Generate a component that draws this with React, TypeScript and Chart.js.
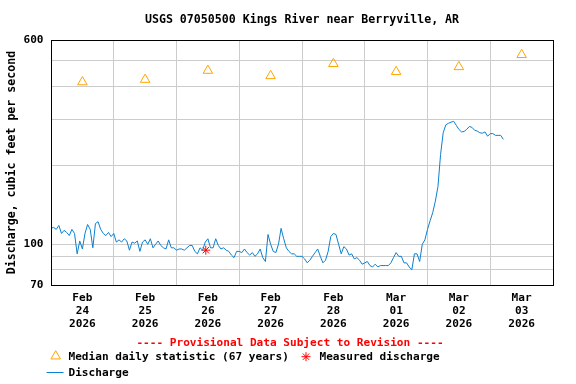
import React, { useEffect, useRef } from 'react';
import { Chart, registerables } from 'chart.js';
import { drawPoint } from 'chart.js/helpers';

Chart.register(...registerables);

// ---------- data ----------
const titleText = 'USGS 07050500 Kings River near Berryville, AR';
const yAxisTitle = 'Discharge, cubic feet per second';
const provisionalText = '---- Provisional Data Subject to Revision ----';

const dayMonths = ['Feb', 'Feb', 'Feb', 'Feb', 'Feb', 'Mar', 'Mar', 'Mar'];
const dayNumbers = ['24', '25', '26', '27', '28', '01', '02', '03'];
const dayYears = ['2026', '2026', '2026', '2026', '2026', '2026', '2026', '2026'];

const yTickValues = [70, 80, 90, 100, 200, 300, 400, 500, 600];
const yLabeledTicks = [70, 100, 600];

// hours since Feb 24 00:00, one reading per hour
const dischargeStartHour = 0;
const dischargeStepHours = 1;
const dischargeValues = [
  115, 116, 114, 118, 110, 113, 111, 108, 114, 110, 92, 103,
  96, 110, 119, 114, 97, 120, 122, 114, 110, 108, 111, 107,
  110, 102, 104, 102, 105, 103, 95, 102, 101, 103, 94, 102,
  104, 100, 105, 97, 100, 103, 99, 97, 96, 104, 97, 97,
  95, 96, 96, 95, 97, 99, 99, 94, 92, 97, 95, 102,
  105, 97, 97, 105, 99, 96, 97, 95, 94, 91, 89, 94,
  94, 93, 96, 93, 91, 93, 90, 92, 96, 89, 86, 109,
  100, 94, 93, 100, 115, 105, 97, 94, 92, 92, 90, 90,
  90, 88, 85, 87, 90, 93, 96, 90, 85, 87, 94, 107,
  110, 109, 100, 92, 98, 96, 91, 92, 88, 89, 87, 84,
  85, 86, 83, 82, 84, 82, 83, 83, 83, 83, 85, 89,
  93, 90, 90, 85, 85, 82, 80, 92, 92, 86, 100, 104,
  114, 123, 132, 146, 166, 220, 266, 285, 289, 292, 294, 284,
  274, 268, 269, 274, 281, 279, 272, 270, 266, 265, 268, 258,
  264, 264, 260, 260, 260, 251,
];

// median daily statistic, at noon of each day
const medianHours = [12, 36, 60, 84, 108, 132, 156, 180];
const medianValues = [415, 424, 459, 438, 487, 454, 474, 527];

const measuredHours = [59.2];
const measuredValues = [95];

// ---------- styles ----------
const FAMILY = "'DejaVu Sans Mono', monospace";
const FONT_SIZE = 11.1;
const TITLE_SIZE = 11.6;
const BLUE = '#0b80d0';
const ORANGE = '#ffa500';
const RED = '#ff0000';
const GRID = '#cccccc';

const extrasPlugin = {
  id: 'extras',
  afterDraw(chart: any) {
    const { ctx, chartArea: a } = chart;
    ctx.save();
    // plot frame
    ctx.strokeStyle = '#000';
    ctx.lineWidth = 1;
    ctx.strokeRect(a.left + 0.5, a.top + 0.5, a.right - a.left, a.bottom - a.top);

    ctx.font = `bold ${FONT_SIZE}px ${FAMILY}`;
    ctx.textBaseline = 'middle';

    // provisional note
    ctx.fillStyle = RED;
    ctx.textAlign = 'center';
    ctx.fillText(provisionalText, 290, a.bottom + 58);

    const ds = chart.data.datasets;
    const row1 = a.bottom + 72;
    const row2 = a.bottom + 88;

    // median legend
    ctx.strokeStyle = ORANGE;
    ctx.fillStyle = 'rgba(0,0,0,0)';
    ctx.lineWidth = 1;
    drawPoint(ctx, { pointStyle: 'triangle', radius: 5.5, rotation: 0, borderWidth: 1 }, 55.7, row1 - 0.8);
    ctx.fillStyle = '#000';
    ctx.textAlign = 'left';
    ctx.fillText(ds[1].label, 68.5, row1);

    // measured legend
    ctx.strokeStyle = RED;
    ctx.fillStyle = 'rgba(0,0,0,0)';
    drawPoint(ctx, { pointStyle: 'star', radius: 4.5, rotation: 0, borderWidth: 1 }, 306, row1 - 0.3);
    ctx.fillStyle = '#000';
    ctx.fillText(ds[2].label, 319.5, row1);

    // discharge legend
    ctx.strokeStyle = BLUE;
    ctx.beginPath();
    ctx.moveTo(46.5, row2 - 0.5);
    ctx.lineTo(63.5, row2 - 0.5);
    ctx.stroke();
    ctx.fillStyle = '#000';
    ctx.fillText(ds[0].label, 68.5, row2 + 0.5);
    ctx.restore();
  },
};

export default function App() {
  const canvasRef = useRef<HTMLCanvasElement | null>(null);

  useEffect(() => {
    if (!canvasRef.current) return;
    const font = { family: FAMILY, size: FONT_SIZE, weight: 'bold' as const };
    const titleFont = { family: FAMILY, size: TITLE_SIZE, weight: 'bold' as const };

    const chart = new Chart(canvasRef.current, {
      type: 'scatter',
      data: {
        datasets: [
          {
            label: 'Discharge',
            data: dischargeValues.map((v, i) => ({ x: dischargeStartHour + i * dischargeStepHours, y: v })),
            showLine: true,
            borderColor: BLUE,
            backgroundColor: BLUE,
            borderWidth: 1,
            pointRadius: 0,
            tension: 0,
          },
          {
            label: 'Median daily statistic (67 years)',
            data: medianValues.map((v, i) => ({ x: medianHours[i], y: v })),
            showLine: false,
            pointStyle: 'triangle',
            pointRadius: 5.5,
            borderColor: ORANGE,
            backgroundColor: 'rgba(0,0,0,0)',
            borderWidth: 1,
          },
          {
            label: 'Measured discharge',
            data: measuredValues.map((v, i) => ({ x: measuredHours[i], y: v })),
            showLine: false,
            pointStyle: 'star',
            pointRadius: 4.5,
            borderColor: RED,
            backgroundColor: RED,
            borderWidth: 1,
          },
        ],
      },
      options: {
        responsive: false,
        animation: false,
        layout: { padding: { left: 0, right: 23, top: 0, bottom: 0 } },
        plugins: {
          legend: { display: false },
          tooltip: { enabled: false },
          title: {
            display: true,
            text: titleText,
            fullSize: false,
            color: '#000',
            font: { ...titleFont, lineHeight: '14px' },
            padding: { top: 13, bottom: 13 },
          },
        },
        scales: {
          x: {
            type: 'linear',
            min: 0,
            max: 192,
            afterBuildTicks: (s: any) => {
              s.ticks = dayNumbers.map((_, i) => ({ value: 12 + 24 * i }));
            },
            afterFit: (s: any) => {
              s.height = 99;
            },
            grid: { offset: true, color: GRID, lineWidth: 1, drawTicks: false },
            border: { display: false },
            ticks: {
              autoSkip: false,
              maxRotation: 0,
              padding: 6.5,
              color: '#000',
              font: { ...font, lineHeight: '13px' },
              callback: (_v: any, i: number) => [dayMonths[i], dayNumbers[i], dayYears[i]],
            },
          },
          y: {
            type: 'logarithmic',
            min: 70,
            max: 600,
            afterBuildTicks: (s: any) => {
              s.ticks = yTickValues.map((v) => ({ value: v }));
            },
            afterFit: (s: any) => {
              s.width = 51;
            },
            grid: {
              color: (c: any) =>
                c.tick && (c.tick.value === 70 || c.tick.value === 600) ? 'rgba(0,0,0,0)' : GRID,
              lineWidth: 1,
              drawTicks: false,
            },
            border: { display: false },
            ticks: {
              autoSkip: false,
              padding: 7.5,
              color: '#000',
              font,
              callback: (v: any) => (yLabeledTicks.includes(Number(v)) ? String(v) : ''),
            },
            title: {
              display: true,
              text: yAxisTitle,
              color: '#000',
              font: { ...titleFont, lineHeight: '14px' },
              padding: { top: 5, bottom: 0 },
            },
          },
        },
      },
      plugins: [extrasPlugin],
    } as any);

    return () => chart.destroy();
  }, []);

  return (
    <div style={{ position: 'fixed', left: 0, top: 0, width: 576, height: 384, background: '#fff' }}>
      <canvas ref={canvasRef} width={576} height={384} style={{ display: 'block' }} />
    </div>
  );
}
